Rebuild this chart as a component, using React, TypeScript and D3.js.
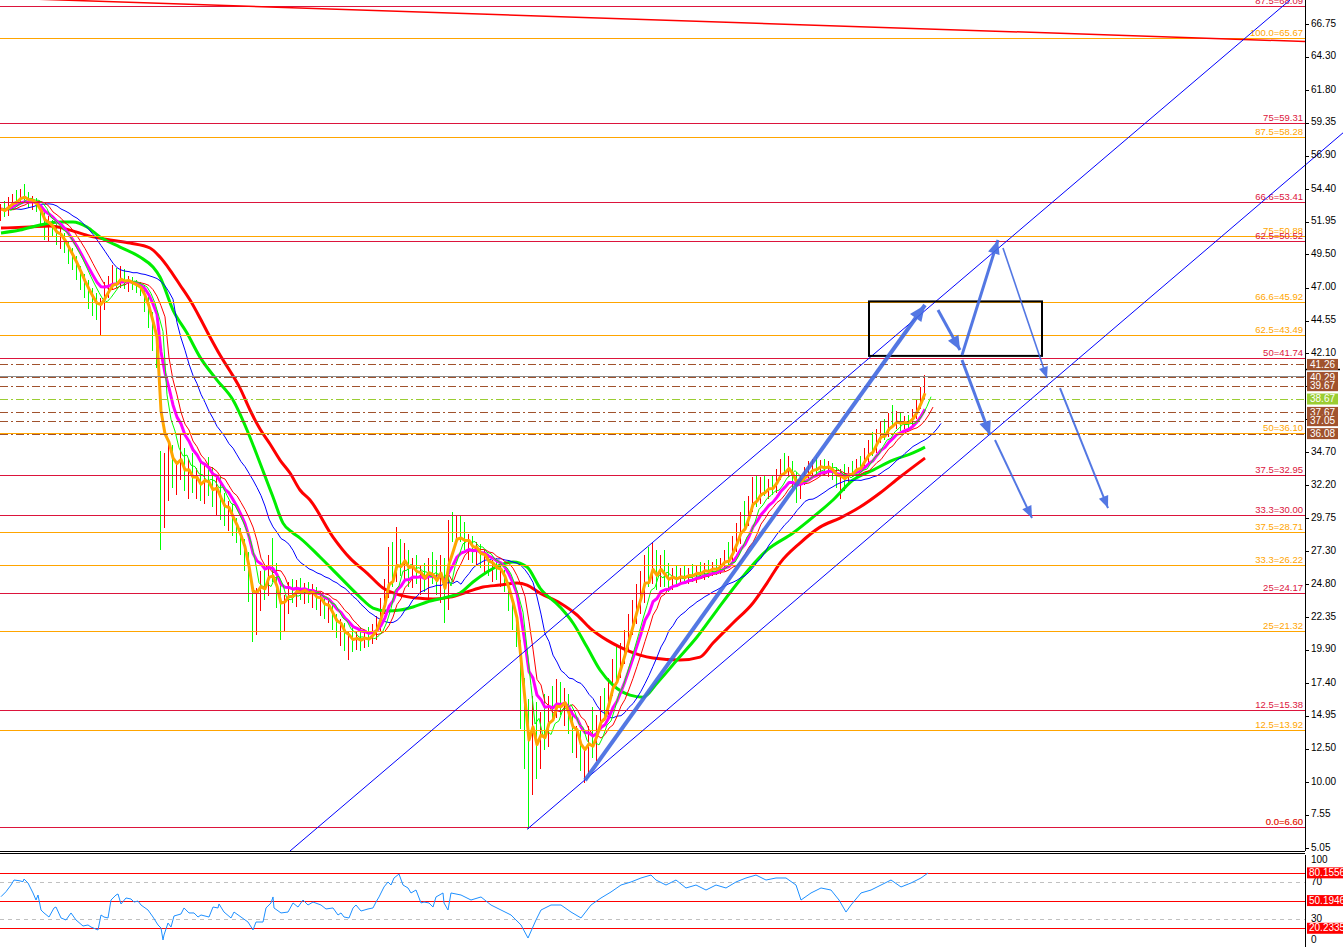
import React from 'react';
import * as d3 from 'd3';

// ---------- price bars (one per bar) ----------
const firstOpen = 52.6;
const barHigh = [
  53.3, 53.5, 53.8, 54.0, 54.3, 54.4, 54.8, 54.2, 53.9, 53.7,
  53.2, 52.8, 52.4, 52.1, 51.8, 51.4, 51.1, 50.5, 50.0, 49.4,
  48.6, 48.0, 47.6, 47.0, 46.6, 46.2, 47.4, 47.9, 48.7, 48.5,
  48.6, 48.4, 47.9, 47.8, 47.6, 47.4, 47.2, 46.3, 45.2, 43.4,
  34.8, 34.6, 35.4, 35.2, 34.0, 36.0, 35.0, 34.2, 34.6, 33.5,
  34.0, 33.8, 34.3, 33.6, 33.0, 32.8, 31.6, 31.0, 30.8, 29.8,
  29.0, 28.2, 27.2, 25.0, 24.5, 25.8, 26.2, 27.0, 28.3, 26.4,
  24.8, 24.0, 25.0, 25.2, 25.1, 25.3, 24.9, 25.0, 24.8, 24.6,
  24.2, 23.9, 23.6, 23.3, 22.6, 22.2, 21.9, 21.2, 21.5, 21.3,
  21.6, 21.4, 21.6, 21.8, 22.4, 23.8, 25.2, 27.6, 28.0, 29.1,
  28.2, 27.9, 27.4, 26.8, 27.0, 26.2, 26.4, 26.8, 27.2, 26.6,
  27.0, 26.8, 29.6, 30.2, 30.0, 29.9, 29.5, 28.6, 28.4, 28.0,
  27.8, 27.4, 27.1, 26.6, 26.8, 26.2, 25.9, 25.0, 23.8, 22.6,
  20.6, 17.8, 16.2, 16.4, 16.0, 15.2, 16.6, 16.4, 17.2, 17.7,
  17.5, 17.0, 16.6, 15.4, 14.2, 13.8, 12.6, 14.2, 15.6, 15.0,
  16.4, 17.0, 17.8, 19.2, 20.2, 20.4, 21.4, 22.6, 23.6, 24.8,
  25.8, 27.0, 27.6, 27.9, 27.4, 27.0, 27.4, 26.4, 26.0, 26.2,
  26.0, 26.2, 26.0, 26.3, 26.2, 26.5, 26.4, 26.6, 26.5, 26.7,
  26.8, 27.4, 28.0, 28.4, 29.4, 30.2, 31.0, 31.4, 32.8, 33.0,
  32.8, 33.0, 32.7, 32.9, 33.4, 34.2, 34.6, 34.4, 34.0, 33.2,
  33.0, 33.6, 34.0, 34.2, 34.3, 34.1, 34.2, 34.0, 33.9, 33.6,
  33.4, 33.8, 33.6, 34.0, 34.2, 34.4, 35.0, 35.6, 36.2, 36.4,
  37.0, 37.2, 37.6, 38.2, 37.8, 37.6, 37.4, 37.5, 37.9, 38.6, 39.6, 40.5,
];
const barLow = [
  52.0, 52.3, 52.4, 52.8, 53.1, 53.2, 53.5, 53.0, 52.8, 52.7,
  51.8, 50.6, 50.5, 50.8, 50.2, 49.9, 49.6, 48.8, 48.3, 47.6,
  46.8, 46.2, 45.4, 44.9, 44.6, 43.5, 45.3, 46.2, 46.9, 47.0,
  47.0, 46.9, 46.7, 46.8, 46.6, 46.4, 45.2, 44.0, 42.3, 41.0,
  27.4, 29.0, 31.0, 32.0, 31.5, 32.6, 31.8, 31.2, 31.6, 31.2,
  31.0, 30.8, 31.4, 30.6, 30.0, 29.6, 29.2, 28.8, 28.4, 27.9,
  27.0, 25.8, 23.5, 20.5, 21.0, 22.8, 23.6, 23.9, 25.0, 23.0,
  20.6, 21.2, 22.6, 23.4, 23.1, 23.6, 23.3, 23.4, 23.0, 22.9,
  22.4, 22.2, 21.9, 21.4, 20.8, 20.2, 19.8, 19.1, 19.7, 19.9,
  19.8, 20.0, 20.1, 20.3, 20.6, 21.2, 22.6, 23.8, 24.6, 25.0,
  25.4, 25.0, 24.6, 24.5, 24.8, 24.0, 24.2, 23.8, 24.8, 24.0,
  23.4, 21.9, 22.9, 28.0, 27.9, 28.0, 27.4, 26.6, 26.4, 26.2,
  26.0, 25.6, 25.4, 25.0, 25.1, 24.6, 24.2, 22.8, 21.4, 20.1,
  14.0, 11.0, 6.5, 9.0, 10.2, 11.0, 12.4, 12.6, 14.6, 14.8,
  15.0, 14.2, 13.6, 12.2, 11.8, 10.8, 9.9, 10.6, 11.8, 11.6,
  13.8, 14.6, 15.0, 16.4, 17.6, 17.8, 18.8, 19.8, 21.0, 21.8,
  22.6, 23.4, 24.6, 24.8, 24.4, 24.6, 24.6, 24.2, 24.4, 24.6,
  24.8, 24.9, 24.8, 25.0, 24.9, 25.2, 25.1, 25.3, 25.4, 25.5,
  25.6, 25.8, 26.0, 26.4, 27.2, 27.8, 28.8, 29.2, 30.2, 30.6,
  30.8, 31.4, 31.2, 31.5, 31.6, 32.6, 33.0, 32.8, 32.0, 30.9,
  31.2, 32.2, 32.6, 32.8, 33.0, 32.9, 33.0, 32.8, 32.6, 32.0,
  31.2, 31.8, 32.2, 32.8, 32.9, 33.2, 33.4, 33.8, 34.4, 34.6,
  35.4, 35.6, 35.8, 36.6, 36.4, 36.3, 36.4, 36.5, 36.6, 37.2, 37.9, 38.6,
];
const barClose = [
  52.9, 52.6, 53.4, 53.7, 53.6, 54.1, 53.9, 53.3, 53.5, 52.9,
  52.1, 51.0, 51.6, 51.2, 50.5, 50.8, 49.9, 49.2, 48.6, 48.0,
  47.2, 46.5, 46.0, 45.5, 45.1, 45.6, 46.9, 47.5, 47.9, 47.4,
  48.2, 47.3, 47.6, 47.1, 47.0, 46.7, 45.6, 44.4, 42.8, 41.5,
  29.5, 33.5, 34.5, 32.5, 33.2, 34.6, 32.2, 33.4, 32.0, 32.8,
  31.5, 33.0, 32.3, 31.0, 32.2, 30.2, 29.7, 30.4, 28.9, 28.3,
  27.3, 26.3, 24.0, 21.5, 24.0, 25.3, 24.2, 26.6, 25.6, 23.5,
  21.5, 23.6, 24.5, 23.9, 24.8, 24.1, 24.6, 23.8, 24.3, 23.3,
  23.7, 22.6, 23.1, 21.8, 21.2, 21.6, 20.3, 20.7, 20.1, 20.9,
  20.4, 21.0, 20.6, 21.4, 22.0, 23.4, 24.9, 27.0, 25.4, 28.0,
  26.0, 27.2, 25.3, 26.2, 25.2, 25.6, 24.6, 26.3, 25.3, 24.4,
  26.5, 22.8, 29.0, 28.6, 29.6, 28.4, 27.8, 28.1, 26.9, 27.5,
  26.4, 26.9, 25.8, 26.2, 25.5, 25.8, 24.6, 23.2, 21.9, 20.5,
  14.6, 11.6, 8.6, 15.6, 10.8, 14.6, 13.0, 16.0, 15.0, 17.2,
  15.6, 16.4, 14.0, 12.6, 13.6, 11.2, 11.8, 13.5, 12.4, 14.6,
  16.0, 15.2, 17.4, 18.8, 18.2, 20.0, 21.0, 22.2, 23.2, 24.4,
  25.2, 26.6, 25.0, 27.4, 24.8, 26.6, 25.0, 24.6, 25.6, 25.0,
  25.6, 25.2, 25.7, 25.4, 25.9, 25.6, 26.1, 25.7, 26.2, 25.9,
  26.4, 27.0, 26.6, 28.0, 28.9, 29.8, 29.4, 31.0, 32.3, 31.4,
  32.2, 31.9, 32.4, 32.0, 33.0, 33.8, 33.4, 34.0, 32.4, 31.4,
  32.6, 33.2, 33.4, 33.8, 33.5, 33.9, 33.4, 33.7, 33.0, 32.4,
  32.8, 32.4, 33.4, 33.2, 33.9, 33.6, 34.8, 35.2, 35.0, 36.2,
  36.6, 36.0, 37.2, 37.0, 37.4, 36.7, 37.0, 36.9, 37.6, 38.4, 39.3, 40.29,
];

// ---------- slow moving averages (bar position, price) ----------
const slowRedPos = [0, 7.25, 12.25, 17.25, 22.25, 27.25, 32.25, 37.25, 39.75, 42.25, 44.75, 47.25, 49.75, 52.25, 54.75, 57.25, 59.75, 62.25, 64.75, 67.25, 69.75, 72.25, 74.75, 77.25, 83, 87.25, 91.5, 95.5, 99.75, 104, 108, 112.25, 116.5, 120.5, 124.75, 129, 131.5, 134.75, 139.75, 144, 147.25, 151.5, 154.75, 159.75, 163, 169.75, 174.75, 178, 183, 188, 191.5, 194.75, 199.75, 204.75, 209.75, 214.75, 219.75, 224.75, 231];
const slowRedVal = [51.47, 51.55, 51.62, 51.32, 50.87, 50.58, 50.35, 49.98, 49.3, 48.33, 47.21, 46.08, 44.74, 43.31, 41.96, 40.77, 39.49, 37.85, 36.42, 35.3, 34.1, 33.13, 31.86, 31.11, 28.34, 26.76, 25.64, 24.52, 23.99, 23.77, 23.69, 23.84, 24.22, 24.59, 24.74, 24.89, 24.74, 24.14, 23.4, 22.5, 21.52, 20.62, 20.1, 19.5, 19.28, 19.13, 19.35, 20.4, 21.9, 23.4, 24.89, 26.39, 27.89, 29.08, 29.76, 30.58, 31.63, 32.83, 34.25];
const slowGreenPos = [0, 4.75, 9.75, 14.75, 18, 21.5, 24.75, 29.75, 34.75, 38, 39.75, 43, 46.5, 49.75, 54, 58, 61.5, 64.75, 68, 70.5, 73, 74.75, 79.75, 84.75, 89.75, 93, 96.5, 99.75, 103, 106.5, 111.5, 114.75, 118, 121.5, 124.75, 128, 131.5, 134.75, 139.75, 143, 146.5, 149.75, 153, 157.25, 160.5, 164, 169, 174, 179, 184.75, 191.5, 198, 203, 208, 213, 218, 223, 228, 231];
const slowGreenVal = [51.1, 51.32, 51.7, 51.92, 51.92, 51.55, 50.8, 50.05, 49.3, 48.55, 47.81, 45.33, 43.61, 41.81, 40.09, 38.59, 36.35, 33.88, 31.33, 29.38, 28.64, 28.26, 26.84, 25.34, 23.84, 23.02, 22.8, 22.87, 23.1, 23.47, 23.84, 24.14, 24.97, 25.72, 26.24, 26.47, 26.09, 24.52, 23.1, 21.9, 20.1, 18.38, 17.25, 16.5, 16.35, 17.4, 19.13, 20.85, 22.87, 25.12, 27.36, 28.64, 29.83, 31.11, 32.61, 33.35, 34.1, 34.63, 35.07];

// ---------- Fibonacci levels ----------
const redFibNames = ['87.5', '75', '66.6', '62.5', '50', '37.5', '33.3', '25', '12.5', '0.0'];
const redFibValues = [68.09, 59.31, 53.41, 50.52, 41.74, 32.95, 30.0, 24.17, 15.38, 6.6];
const orangeFibNames = ['100.0', '87.5', '75', '66.6', '62.5', '50', '37.5', '33.3', '25', '12.5', '0.0'];
const orangeFibValues = [65.67, 58.28, 50.88, 45.92, 43.49, 36.1, 28.71, 26.22, 21.32, 13.92, 6.6];

// ---------- marked price levels ----------
const markValues = [41.26, 40.29, 39.67, 38.67, 37.67, 37.05, 36.08];
const markIsTarget = [false, false, false, true, false, false, false];
const bidValue = 40.42;
const lastValue = 40.9;

// ---------- axis ticks ----------
const axisTickLabels = ['66.75', '64.30', '61.80', '59.35', '56.90', '54.40', '51.95', '49.50', '47.00', '44.55', '42.10', '39.65', '37.20', '34.70', '32.20', '29.75', '27.30', '24.80', '22.35', '19.90', '17.40', '14.95', '12.50', '10.00', '7.55', '5.05'];

// ---------- RSI ----------
const rsiPos = [0, 1.25, 2.5, 3.25, 4.5, 5.5, 5.75, 6.75, 8, 8.75, 9.25, 10, 10.75, 12, 13.25, 13.75, 15, 16.25, 17.5, 18.75, 20.5, 21.75, 22.5, 24.25, 25, 25.75, 26.75, 27.5, 28.75, 29.25, 30, 31.25, 32.5, 33.25, 34.25, 35, 36.75, 38, 39.25, 40, 40.5, 40.75, 41.75, 42.5, 43.25, 45, 45.75, 47, 48.25, 49.25, 50, 52, 53, 54.25, 54.5, 55.75, 57.5, 58.25, 60, 61.75, 63, 63.75, 65.5, 66.25, 67.5, 68, 68.25, 70, 71.75, 73, 74.25, 75.5, 76.75, 78, 80, 81.25, 83, 84.25, 85, 85.75, 87, 88, 88.75, 90, 91.75, 93, 93.75, 94.5, 95.75, 96.75, 97.5, 98.25, 99.5, 100.5, 101.75, 102.5, 103.75, 105, 105.75, 107, 108, 108.75, 110.5, 110.75, 111.75, 112.5, 115, 117.5, 120, 122.5, 125, 127.5, 130, 131.75, 133.75, 135, 137.5, 140, 142.5, 145, 147.5, 150, 152.5, 155, 157.5, 160, 162.5, 163.75, 166.25, 168.75, 171.25, 173.75, 176.25, 178.75, 181.25, 183.75, 186.25, 188.75, 191.25, 193.75, 196.25, 198.75, 200, 202.5, 205, 207.5, 209.5, 211.25, 212.5, 215, 217.5, 220, 222.5, 225, 227.5, 230, 231.75];
const rsiVal = [54.4, 59.8, 67.0, 72.4, 71.7, 70.6, 73.5, 69.2, 58.4, 50.8, 56.2, 40.0, 36.8, 32.4, 42.2, 43.2, 31.4, 29.2, 36.8, 29.2, 22.7, 23.8, 21.6, 18.4, 34.6, 32.4, 31.4, 50.8, 56.2, 57.3, 46.5, 53.0, 51.9, 48.6, 49.7, 45.4, 40.0, 32.4, 23.8, 20.5, 7.6, 13.0, 25.9, 21.6, 33.5, 35.7, 42.2, 36.8, 36.8, 32.4, 34.6, 32.4, 43.2, 42.2, 46.5, 37.8, 31.4, 37.8, 32.4, 27.0, 18.4, 27.0, 27.0, 42.2, 47.6, 54.1, 42.2, 36.8, 37.8, 47.6, 43.2, 50.8, 45.4, 48.6, 45.4, 41.1, 42.2, 34.6, 36.8, 32.4, 31.4, 42.2, 45.4, 38.9, 41.1, 42.2, 48.6, 54.1, 64.9, 70.3, 67.0, 74.6, 78.9, 67.0, 63.8, 58.4, 61.6, 47.6, 48.6, 47.6, 43.2, 54.1, 58.4, 47.6, 40.0, 58.4, 56.2, 50.8, 54.1, 45.4, 40.0, 34.6, 23.8, 9.7, 29.2, 40.0, 45.4, 45.4, 37.8, 31.4, 45.4, 53.0, 59.5, 67.0, 70.3, 74.6, 77.8, 72.4, 67.0, 72.4, 63.8, 67.0, 61.6, 67.0, 63.8, 70.3, 74.6, 77.8, 72.4, 74.6, 74.6, 67.0, 50.8, 58.4, 63.8, 61.6, 50.8, 37.8, 45.4, 58.4, 61.6, 67.0, 72.4, 64.9, 69.2, 74.6, 80.0];
const rsiLevels = [80.1556, 50.1946, 20.2335];
const rsiGrid = [70, 30];
const rsiAxisLabels = ['100', '70', '30', '0'];

// ---------- drawn objects (bar position, price) ----------
const channelFromPos = [72.25, 131.5];
const channelFromPrice = [4.83, 6.45];
const channelToPos = [322.25, 335.5];
const channelToPrice = [68.547, 58.6];
const trendFromPos = [-0.25, 326];
const trendPrice = [68.7, 65.44];
const arrowFromPos = [146, 234.25, 240.25, 240.25, 250.5, 248.5, 264.75];
const arrowFromPrice = [10.13, 45.33, 41.6, 41.96, 49.98, 35.6, 39.49];
const arrowToPos = [231, 239.75, 247.25, 249.25, 261.5, 257.75, 276.75];
const arrowToPrice = [45.71, 42.34, 35.97, 50.58, 40.24, 29.76, 30.51];
const boxPos = [217, 260.25];
const boxPrice = [45.98, 41.9];

function ema(vals: number[], n: number): number[] {
  const a = 2 / (n + 1);
  const out: number[] = [];
  let prev = vals[0];
  vals.forEach((v, i) => {
    prev = i === 0 ? v : prev + a * (v - prev);
    out.push(prev);
  });
  return out;
}

const UP_COLOR = 'rgb(255,0,0)';
const DOWN_COLOR = 'rgb(0,255,0)';

export default function App() {
  const W = 1343;
  const H = 947;
  const axisX = 1305;
  const mainBottom = 851;
  const font = '"Liberation Sans", Arial, sans-serif';

  const x = d3.scaleLinear().domain([0, 1]).range([1, 5]);
  const y = d3.scaleLinear().domain([4.83, 68.547]).range([mainBottom, 0]);
  const yR = d3.scaleLinear().domain([0, 100]).range([947, 854.5]);

  const opens = barClose.map((c, i) => (i === 0 ? firstOpen : barClose[i - 1]));

  const lineXY = d3
    .line<[number, number]>()
    .x((d) => x(d[0]))
    .y((d) => y(d[1]));
  const lineXYSmooth = d3
    .line<[number, number]>()
    .x((d) => x(d[0]))
    .y((d) => y(d[1]))
    .curve(d3.curveMonotoneX);

  const slowRed = slowRedPos.map((p, i) => [p, slowRedVal[i]] as [number, number]);
  const slowGreen = slowGreenPos.map((p, i) => [p, slowGreenVal[i]] as [number, number]);

  // fast averages: period, forward shift (bars), colour, width
  const fast = [
    { n: 18, shift: 4, color: '#0000ff', w: 1 },
    { n: 9, shift: 2, color: '#ff0000', w: 1 },
    { n: 10, shift: 0, color: '#ff00ff', w: 3 },
    { n: 5, shift: 1.5, color: '#00ff00', w: 1 },
    { n: 4, shift: 0, color: '#ffa500', w: 3 },
  ];
  const fastPaths = fast.map((f) => {
    const e = ema(barClose, f.n);
    const pts = e.map((v, i) => [i + f.shift, v] as [number, number]);
    if (f.shift > 0) pts.unshift([0, e[0]]);
    return lineXY(pts) || '';
  });

  const nR = Math.min(rsiPos.length, rsiVal.length);
  const rsiPts = d3.range(nR).map((i) => [x(rsiPos[i]), yR(rsiVal[i])] as [number, number]);
  const rsiLine = d3.line<[number, number]>()(rsiPts) || '';

  const arrowW = [4, 3, 3, 3, 1.6, 2, 2];
  const arrowColor = '#4169e1';

  const arrowHead = (x1: number, y1: number, x2: number, y2: number, size: number) => {
    const ang = Math.atan2(y2 - y1, x2 - x1);
    const L = 8 + size * 2;
    const Wd = 3 + size;
    const bx = x2 - L * Math.cos(ang);
    const by = y2 - L * Math.sin(ang);
    const px = -Math.sin(ang) * Wd;
    const py = Math.cos(ang) * Wd;
    return `${x2},${y2} ${bx + px},${by + py} ${bx - px},${by - py}`;
  };

  return (
    <svg
      width={W}
      height={H}
      style={{ position: 'fixed', left: 0, top: 0, background: '#ffffff' }}
      fontFamily={font}
    >
      <rect x={0} y={0} width={W} height={H} fill="#ffffff" />

      {/* price bars */}
      <g>
        {barHigh.map((h, i) => {
          const top = Math.round(y(h));
          const bot = Math.round(y(barLow[i]));
          return (
            <rect
              key={'b' + i}
              x={Math.round(x(i)) - 1}
              y={top}
              width={1}
              height={Math.max(1, bot - top)}
              fill={barClose[i] >= opens[i] ? UP_COLOR : DOWN_COLOR}
              shapeRendering="crispEdges"
            />
          );
        })}
      </g>

      {/* moving averages */}
      <g fill="none" strokeLinejoin="round">
        <path d={lineXYSmooth(slowRed) || ''} stroke="#ff0000" strokeWidth={3} />
        <path d={lineXYSmooth(slowGreen) || ''} stroke="#00ee00" strokeWidth={3} />
        {fast.map((f, k) => (
          <path key={'ma' + k} d={fastPaths[k]} stroke={f.color} strokeWidth={f.w} />
        ))}
      </g>

      {/* marked price levels */}
      <g shapeRendering="crispEdges">
        <line x1={0} x2={axisX} y1={Math.round(y(bidValue)) + 0.5} y2={Math.round(y(bidValue)) + 0.5} stroke="#8c8c8c" strokeWidth={1} />
        {markValues.map((v, i) => (
          <line
            key={'m' + i}
            x1={0}
            x2={axisX}
            y1={Math.round(y(v)) + 0.5}
            y2={Math.round(y(v)) + 0.5}
            stroke={markIsTarget[i] ? '#9acd32' : '#a0522d'}
            strokeWidth={1}
            strokeDasharray="8,3,2,3"
          />
        ))}
      </g>

      {/* Fibonacci levels */}
      <g shapeRendering="crispEdges">
        {orangeFibValues.map((v, i) => (
          <line key={'of' + i} x1={0} x2={axisX} y1={Math.round(y(v)) + 0.5} y2={Math.round(y(v)) + 0.5} stroke="#ffa500" strokeWidth={1} />
        ))}
        {redFibValues.map((v, i) => (
          <line key={'rf' + i} x1={0} x2={axisX} y1={Math.round(y(v)) + 0.5} y2={Math.round(y(v)) + 0.5} stroke="#dc143c" strokeWidth={1} />
        ))}
      </g>
      <g fontSize={9.5} textAnchor="end">
        {orangeFibValues.map((v, i) => (
          <text key={'oft' + i} x={axisX - 2} y={y(v) - 2} fill="#ffa500">
            {`${orangeFibNames[i]}=${v.toFixed(2)}`}
          </text>
        ))}
        {redFibValues.map((v, i) => (
          <text key={'rft' + i} x={axisX - 2} y={y(v) - 2} fill="#dc143c">
            {`${redFibNames[i]}=${v.toFixed(2)}`}
          </text>
        ))}
      </g>

      {/* trend line at the top */}
      <line
        x1={x(trendFromPos[0])}
        y1={y(trendPrice[0])}
        x2={x(trendFromPos[1])}
        y2={y(trendPrice[1])}
        stroke="#ff0000"
        strokeWidth={1.5}
      />

      {/* channel lines */}
      {channelFromPos.map((p, i) => (
        <line
          key={'ch' + i}
          x1={x(p)}
          y1={y(channelFromPrice[i])}
          x2={x(channelToPos[i])}
          y2={y(channelToPrice[i])}
          stroke="#0000ff"
          strokeWidth={1}
        />
      ))}

      {/* rectangle */}
      <rect
        x={x(boxPos[0])}
        y={y(boxPrice[0])}
        width={x(boxPos[1]) - x(boxPos[0])}
        height={y(boxPrice[1]) - y(boxPrice[0])}
        fill="none"
        stroke="#000000"
        strokeWidth={2}
      />

      {/* arrows */}
      <g opacity={0.9}>
        {arrowFromPos.map((p, i) => {
          const x1 = x(p);
          const y1 = y(arrowFromPrice[i]);
          const x2 = x(arrowToPos[i]);
          const y2 = y(arrowToPrice[i]);
          return (
            <g key={'ar' + i}>
              <line x1={x1} y1={y1} x2={x2} y2={y2} stroke={arrowColor} strokeWidth={arrowW[i]} />
              <polygon points={arrowHead(x1, y1, x2, y2, arrowW[i])} fill={arrowColor} />
            </g>
          );
        })}
      </g>

      {/* main axis */}
      <g shapeRendering="crispEdges">
        <line x1={axisX + 0.5} x2={axisX + 0.5} y1={0} y2={mainBottom} stroke="#000" />
        <line x1={0} x2={axisX} y1={851.5} y2={851.5} stroke="#000" />
        <line x1={0} x2={axisX} y1={853.5} y2={853.5} stroke="#000" />
        <line x1={axisX + 0.5} x2={axisX + 0.5} y1={855} y2={H} stroke="#000" />
      </g>
      <g fontSize={10} fill="#000">
        {axisTickLabels.map((t, i) => (
          <g key={'t' + i}>
            <line x1={axisX} x2={axisX + 4} y1={Math.round(y(+t)) + 0.5} y2={Math.round(y(+t)) + 0.5} stroke="#000" />
            <text x={axisX + 6} y={y(+t)} dominantBaseline="middle">
              {t}
            </text>
          </g>
        ))}
      </g>

      {/* last price marker and price labels */}
      <line x1={axisX} x2={1340} y1={Math.round(y(lastValue)) + 0.5} y2={Math.round(y(lastValue)) + 0.5} stroke="#000" strokeWidth={1.5} />
      <g fontSize={10}>
        {markValues.map((v, i) => (
          <g key={'ml' + i}>
            <rect x={axisX + 2} y={y(v) - 5.5} width={31} height={11} fill={markIsTarget[i] ? '#9acd32' : '#a0522d'} />
            <text x={axisX + 17.5} y={y(v) + 0.5} fill="#ffffff" textAnchor="middle" dominantBaseline="middle">
              {v.toFixed(2)}
            </text>
          </g>
        ))}
      </g>

      {/* RSI panel */}
      <g shapeRendering="crispEdges">
        {rsiGrid.map((v, i) => (
          <line key={'rg' + i} x1={0} x2={axisX} y1={Math.round(yR(v)) + 0.5} y2={Math.round(yR(v)) + 0.5} stroke="#c0c0c0" strokeDasharray="4,4" />
        ))}
        {rsiLevels.map((v, i) => (
          <line key={'rl' + i} x1={0} x2={axisX} y1={Math.round(yR(v)) + 0.5} y2={Math.round(yR(v)) + 0.5} stroke="#ff0000" strokeWidth={1.5} />
        ))}
      </g>
      <path d={rsiLine} fill="none" stroke="#1e90ff" strokeWidth={1} />
      <g fontSize={10} fill="#000">
        {rsiAxisLabels.map((t, i) => {
          const v = +t;
          const yy = v === 100 ? yR(v) + 6 : v === 0 ? yR(v) - 7 : yR(v);
          return (
            <text key={'ra' + i} x={axisX + 6} y={yy} dominantBaseline="middle">
              {t}
            </text>
          );
        })}
      </g>
      <g fontSize={10}>
        {rsiLevels.map((v, i) => (
          <g key={'rb' + i}>
            <rect x={axisX + 2} y={yR(v) - 5.5} width={38} height={11} fill="#ff0000" />
            <text x={axisX + 4} y={yR(v) + 0.5} fill="#ffffff" dominantBaseline="middle">
              {v.toFixed(4)}
            </text>
          </g>
        ))}
      </g>
    </svg>
  );
}
